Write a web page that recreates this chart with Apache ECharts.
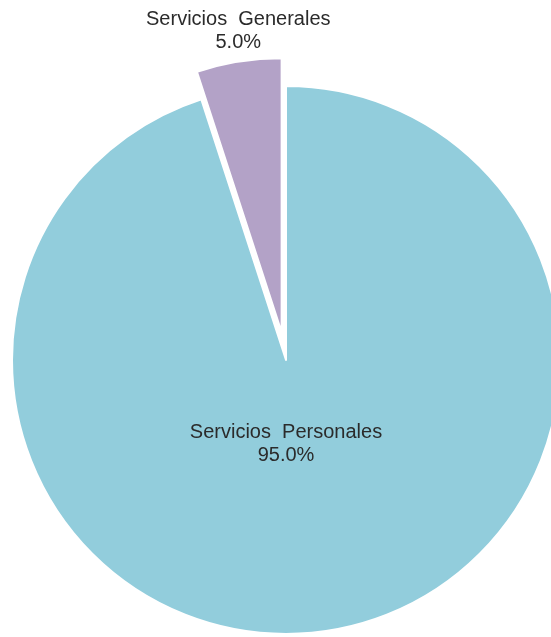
<!DOCTYPE html>
<html><head><meta charset="utf-8">
<script src="https://cdn.jsdelivr.net/npm/echarts@6/dist/echarts.min.js"></script>
<style>html,body{margin:0;padding:0;background:#fff}#c{width:551px;height:637px}</style>
</head><body><div id="c"></div>
<script>
const categories = ["Servicios Personales", "Servicios Generales"];
const values = [95.0, 5.0];
const colors = ["#92CDDC", "#B3A2C7"];
const labelPositions = ['center', 'inside'];
const labelOffsets = [[0, 84], [-1, -164]];
const exploded = [false, true];

const chart = echarts.init(document.getElementById('c'));
chart.setOption({
  animation: false,
  series: [{
    type: 'pie',
    center: [286, 360],
    radius: [0, 274],
    startAngle: 90,
    clockwise: true,
    selectedMode: 'multiple',
    selectedOffset: 28,
    avoidLabelOverlap: false,
    labelLine: {show: false},
    itemStyle: {borderColor: '#fff', borderWidth: 2},
    emphasis: {disabled: true},
    data: categories.map((n, i) => {
      const lbl = {
        show: true,
        position: labelPositions[i],
        offset: labelOffsets[i],
        formatter: p => p.name.replace(' ', '  ') + '\n' + p.value.toFixed(1) + '%',
        fontFamily: 'Liberation Sans, Arial, sans-serif',
        fontSize: 20,
        lineHeight: 23,
        color: '#2b2b2b',
        align: 'center'
      };
      return {
        name: n,
        value: values[i],
        selected: exploded[i],
        itemStyle: {color: colors[i]},
        label: lbl,
        select: {label: lbl, itemStyle: {color: colors[i], borderColor: '#fff', borderWidth: 2}}
      };
    })
  }]
});
</script></body></html>
